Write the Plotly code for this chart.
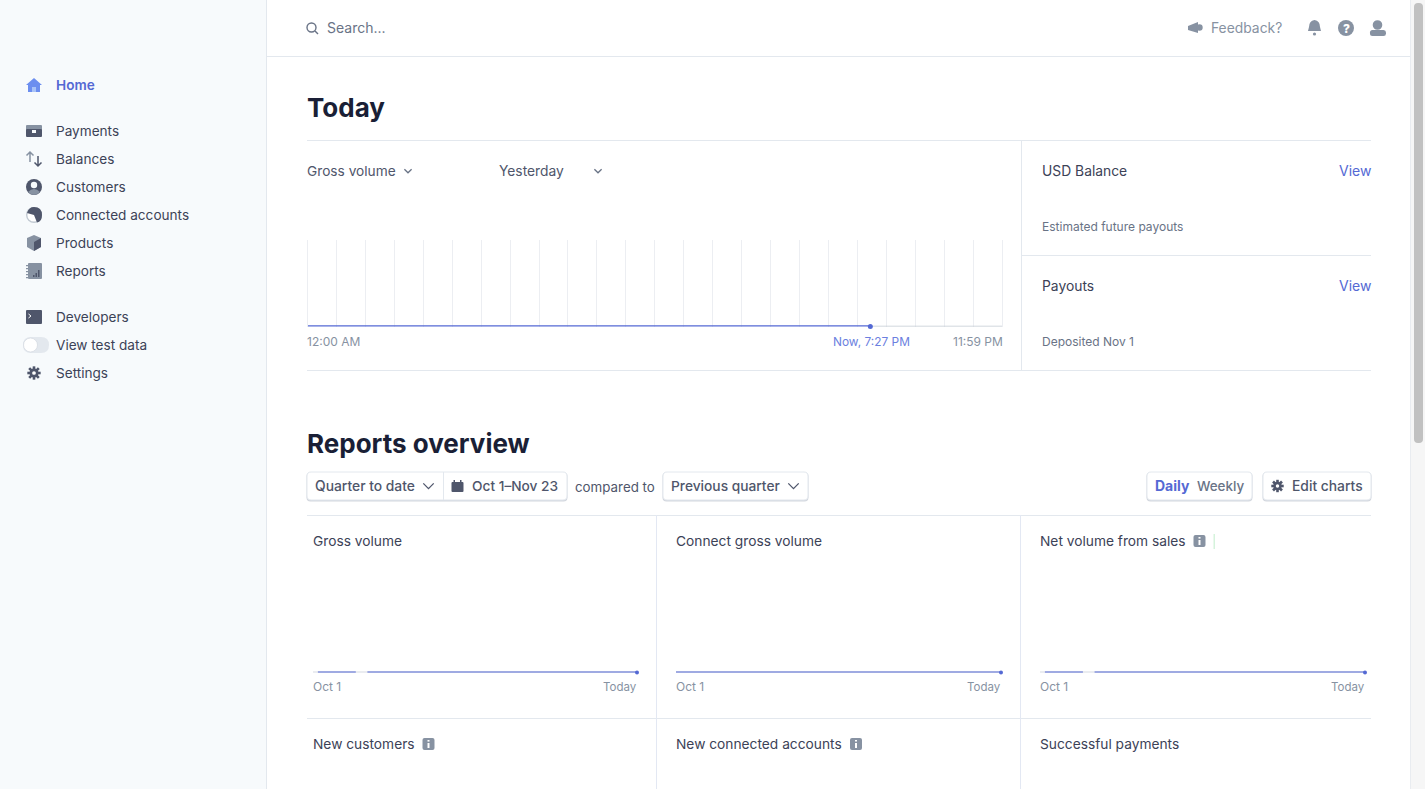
import plotly.graph_objects as go

W, H = 1425, 789
FONT = "Inter"

# ---- data ----
today_hours_elapsed = [0, 19.45]
today_values_elapsed = [0, 0]
today_hours_rest = [19.45, 24]
today_values_rest = [0, 0]
today_now_hour = [19.45]
today_now_value = [0]

period_days = [0.8, 7, 8, 8.9, 53]
period_values = [0, 0, None, 0, 0]
connect_days = [0, 53]
connect_values = [0, 0]
prior_days = [0, 53]
prior_values = [0, 0]
last_day = [53]
last_value = [0]

nav_labels = ["Home", "Payments", "Balances", "Customers", "Connected accounts", "Products",
              "Reports", "Developers", "View test data", "Settings"]
nav_rows = [85, 131, 159, 187, 215, 243, 271, 317, 345, 373]
chart_titles_row1 = ["Gross volume", "Connect gross volume", "Net volume from sales"]
chart_titles_row2 = ["New customers", "New connected accounts", "Successful payments"]

BLUE = "#5469d4"
GREY_LINE = "#c1c9d2"
BORDER = "#e3e8ee"
DARK = "#3c4257"
MID = "#4f566b"
SOFT = "#697386"
FAINT = "#8792a2"
ICON = "#4f566b"
ICON2 = "#8792a2"


def px(x):
    return x / W


def py(y):
    return 1 - y / H


def path(*tok):
    out, i = [], 0
    for t in tok:
        if isinstance(t, str):
            out.append(t)
            i = 0
        else:
            out.append(str(round(px(t) if i % 2 == 0 else py(t), 5)))
            i += 1
    return " ".join(out)


shapes, ann = [], []


def rect(x0, y0, x1, y1, fill, line=None, lw=0, layer="below"):
    shapes.append(dict(type="rect", xref="paper", yref="paper", x0=px(x0), x1=px(x1), y0=py(y0), y1=py(y1),
                       fillcolor=fill, line=dict(color=line or fill, width=lw), layer=layer))


def rrect(x0, y0, x1, y1, r, fill, line=None, lw=0, layer="below"):
    p = path("M", x0 + r, y0, "L", x1 - r, y0, "Q", x1, y0, x1, y0 + r, "L", x1, y1 - r, "Q", x1, y1, x1 - r, y1,
             "L", x0 + r, y1, "Q", x0, y1, x0, y1 - r, "L", x0, y0 + r, "Q", x0, y0, x0 + r, y0, "Z")
    shapes.append(dict(type="path", xref="paper", yref="paper", path=p, fillcolor=fill,
                       line=dict(color=line or fill, width=lw), layer=layer))


def hline(y, x0, x1, color=BORDER, w=1):
    shapes.append(dict(type="line", xref="paper", yref="paper", x0=px(x0), x1=px(x1), y0=py(y), y1=py(y),
                       line=dict(color=color, width=w), layer="below"))


def vline(x, y0, y1, color=BORDER, w=1):
    shapes.append(dict(type="line", xref="paper", yref="paper", x0=px(x), x1=px(x), y0=py(y0), y1=py(y1),
                       line=dict(color=color, width=w), layer="below"))


def circle(cx, cy, r, fill, line=None, lw=0):
    shapes.append(dict(type="circle", xref="paper", yref="paper", x0=px(cx - r), x1=px(cx + r),
                       y0=py(cy + r), y1=py(cy - r), fillcolor=fill,
                       line=dict(color=line or fill, width=lw), layer="above"))


def poly(fill, *tok, line=None, lw=0):
    shapes.append(dict(type="path", xref="paper", yref="paper", path=path(*tok), fillcolor=fill,
                       line=dict(color=line or fill, width=lw), layer="above"))


def stroke(color, *tok, lw=1.3):
    shapes.append(dict(type="path", xref="paper", yref="paper", path=path(*tok),
                       line=dict(color=color, width=lw), layer="above"))


def chevron(x, y, s=4, color=SOFT, lw=1.3):
    stroke(color, "M", x - s, y - s / 2, "L", x, y + s / 2, "L", x + s, y - s / 2, lw=lw)


def text(x, y, s, size=13.7, color=DARK, weight=400, anchor="left"):
    ann.append(dict(xref="paper", yref="paper", x=px(x), y=py(y - 0.5), text=s, showarrow=False, xanchor=anchor,
                    yanchor="middle", borderpad=0, borderwidth=0,
                    font=dict(family=FONT, size=size, color=color, weight=weight)))


def gear(cx, cy, r, color):
    for dx, dy in [(0, -1), (0, 1), (1, 0), (-1, 0), (.72, .72), (-.72, .72), (.72, -.72), (-.72, -.72)]:
        stroke(color, "M", cx, cy, "L", cx + dx * r * 1.15, cy + dy * r * 1.15, lw=2.6)
    circle(cx, cy, r * .78, color)
    circle(cx, cy, r * .32, "#ffffff")


def info(cx, cy):
    rrect(cx - 6, cy - 6, cx + 6, cy + 6, 2, ICON2, layer="above")
    rect(cx - 1, cy - 1, cx + 1, cy + 4, "#ffffff", layer="above")
    rect(cx - 1, cy - 4, cx + 1, cy - 2.4, "#ffffff", layer="above")


# ---- page chrome ----
rect(0, 0, 266, H, "#f7fafc")
vline(266.5, 0, H)
rect(1411, 0, W, H, "#f6f6f6")
vline(1410.5, 0, H, "#e9ecf0")
rrect(1414, 3, 1423, 443, 4, "#c1c1c1")
hline(56.5, 267, 1410)
hline(140.5, 307, 1371)
hline(370.5, 307, 1371)
vline(1021.5, 140, 370)
hline(255.5, 1021, 1371)
hline(515.5, 307, 1371)
hline(718.5, 307, 1371)
vline(656.5, 515, H, "#e3e8f3")
vline(1020.5, 515, H, "#e3e8f3")

# ---- sidebar ----
for label, y in zip(nav_labels, nav_rows):
    home = label == "Home"
    text(55.5, y, label, 13.6, BLUE if home else DARK, 600 if home else 400)

poly("#6c8eef", "M", 34, 78, "L", 42, 85, "L", 40, 85, "L", 40, 92, "L", 28, 92, "L", 28, 85, "L", 26, 85, "Z")
poly("#a9c3f7", "M", 32, 92, "L", 32, 87, "L", 36, 87, "L", 36, 92, "Z")
rrect(26, 125, 42, 130, 1, ICON2, layer="above")
rrect(26, 129, 42, 137, 1, ICON, layer="above")
rect(32, 130, 36, 133, "#f7fafc", layer="above")
stroke(ICON2, "M", 30, 162, "L", 30, 152, "M", 26.5, 155.5, "L", 30, 152, "L", 33.5, 155.5, lw=1.5)
stroke(ICON, "M", 38, 156, "L", 38, 166, "M", 34.5, 162.5, "L", 38, 166, "L", 41.5, 162.5, lw=1.5)
circle(34, 187, 8, ICON)
poly(ICON2, "M", 28, 192, "Q", 34, 186, 40, 192, "Q", 34, 198, 28, 192, "Z")
circle(34, 185, 3.2, "#f7fafc")
circle(34, 215, 8, "#c1c9d2")
circle(34, 215, 6.6, "#ffffff")
poly(ICON, "M", 34, 207, "Q", 42, 207, 42, 215, "Q", 42, 222, 37, 222.5, "L", 34, 215, "L", 27, 213, "Q", 29, 207, 34, 207, "Z")
poly(ICON2, "M", 34, 235, "L", 41, 238, "L", 41, 247, "L", 34, 251, "L", 27, 247, "L", 27, 238, "Z")
poly(ICON, "M", 34, 242, "L", 41, 238, "L", 41, 247, "L", 34, 251, "Z")
rrect(28, 263, 42, 279, 1, ICON2, layer="above")
for by in (265, 268, 271, 274, 277):
    rect(26, by, 28, by + 1.3, ICON2, layer="above")
for bx, by in [(33, 275), (35.5, 273), (38, 270)]:
    rect(bx, by, bx + 1.5, 277, ICON, layer="above")
rrect(26, 310, 42, 324, 1, ICON, layer="above")
stroke("#ffffff", "M", 28.5, 314, "L", 31, 316, "L", 28.5, 318, lw=1)
rrect(23, 337, 49, 353, 8, "#e3e8ee", layer="above")
circle(30.5, 345, 7, "#ffffff", "#d5dae2", 0.8)
gear(34, 373, 5.8, ICON)

# ---- top bar ----
shapes.append(dict(type="circle", xref="paper", yref="paper", x0=px(307), x1=px(316), y0=py(32), y1=py(23),
                   line=dict(color=SOFT, width=1.4), layer="above"))
stroke(SOFT, "M", 315, 31, "L", 318, 34, lw=1.4)
text(326.5, 28, "Search...", 14, SOFT)
poly(ICON2, "M", 1188, 26, "L", 1198, 22, "L", 1198, 33, "L", 1188, 30, "Z")
circle(1199.5, 27.5, 3.2, ICON2)
text(1211, 28.5, "Feedback?", 13.85, FAINT)
poly(ICON2, "M", 1314.5, 20, "Q", 1309, 21, 1309, 27, "L", 1308, 31, "L", 1321, 31, "L", 1320, 27, "Q", 1320, 21, 1314.5, 20, "Z")
circle(1314.5, 34, 1.6, ICON2)
circle(1346, 28, 8, ICON2)
text(1346, 28.5, "?", 12, "#ffffff", 800, "center")
circle(1377.5, 25, 4.8, ICON2)
rrect(1370, 30, 1386, 36, 2.5, ICON2, layer="above")

# ---- today section ----
text(307, 108, "Today", 26, "#1a1f36", 700)
text(307, 171.5, "Gross volume", 13.7, MID)
chevron(408, 171, 3.6)
text(499, 171.5, "Yesterday", 13.8, MID)
chevron(598, 171, 3.6)
text(1042, 171.5, "USD Balance", 13.85, DARK, 400)
text(1370.5, 171.5, "View", 14, BLUE, 400, "right")
text(1042, 227.5, "Estimated future payouts", 12, SOFT)
text(1042, 286, "Payouts", 13.85, DARK, 400)
text(1370.5, 286, "View", 14, BLUE, 400, "right")
text(1042, 342, "Deposited Nov 1", 12, SOFT)
text(307, 341.5, "12:00 AM", 12, FAINT)
text(909.5, 341.5, "Now, 7:27 PM", 11.9, "#6c7fe0", 400, "right")
text(1002.5, 341.5, "11:59 PM", 12, FAINT, 400, "right")

# ---- reports header ----
text(307, 444, "Reports overview", 26, "#1a1f36", 700)
for x0, x1 in [(307, 567), (663, 808), (1147, 1252), (1263, 1371)]:
    rrect(x0 - 0.5, 472.5, x1 + 0.5, 501.5, 4, "#d3d7de", layer="below")
    rrect(x0, 472, x1, 500, 4, "#ffffff", "#e3e8ee", 1, layer="below")
vline(443.5, 472, 500)
text(315, 486, "Quarter to date", 13.85, MID, 500)
chevron(428.5, 486, 5.2, MID)
rrect(451.5, 482, 463.5, 492, 1, ICON, layer="above")
rect(453.5, 480, 455, 483, ICON, layer="above")
rect(460, 480, 461.5, 483, ICON, layer="above")
text(472, 486, "Oct 1–Nov 23", 13.7, MID, 500)
text(575, 487.5, "compared to", 13.35, MID)
text(671, 486, "Previous quarter", 13.75, MID, 500)
chevron(793.5, 486, 5.2, MID)
text(1155, 486, "Daily", 14, BLUE, 700)
text(1197, 486, "Weekly", 13.4, SOFT, 500)
gear(1277.5, 486, 5.4, ICON)
text(1291.5, 486, "Edit charts", 13.85, MID, 500)

# ---- chart cards ----
for x, s in zip((313, 676, 1040), chart_titles_row1):
    text(x, 541, s, 13.75, DARK, 400)
for x, s in zip((313, 676, 1040), chart_titles_row2):
    text(x, 744, s, 13.75, DARK, 400)
info(1199.5, 541)
info(428.5, 744)
info(856, 744)
rect(1213.5, 534, 1215, 549, "#d5f3dc")
for x0, x1 in [(313, 637), (676, 1001), (1040, 1365)]:
    text(x0, 686.5, "Oct 1", 12, FAINT)
    text(x1, 687, "Today", 11.5, FAINT, 400, "right")

# ---- figure and real charts ----
fig = go.Figure()


def dom(a, b, size):
    return [a / size, b / size]


axis_off = dict(showgrid=False, zeroline=False, showticklabels=False, ticks="", showline=False, fixedrange=True)
GRID = "#eceef2"
layout = dict(
    width=W, height=H, margin=dict(l=0, r=0, t=0, b=0, pad=0), paper_bgcolor="#ffffff", plot_bgcolor="rgba(0,0,0,0)",
    showlegend=False, shapes=shapes, annotations=ann, hovermode=False, font=dict(family=FONT),
    xaxis=dict(domain=dom(307.5, 1002, W), range=[0, 24], tick0=0, dtick=1, showgrid=True, gridcolor=GRID,
               gridwidth=1, zeroline=False, showticklabels=False, ticks="", showline=False, fixedrange=True,
               anchor="y"),
    yaxis=dict(domain=[1 - 326.5 / H, 1 - 240 / H], range=[0, 1], showgrid=False, zeroline=False,
               showticklabels=False, ticks="", showline=True, mirror=True, linecolor=GRID, linewidth=1,
               fixedrange=True, anchor="x"),
)

fig.add_trace(go.Scatter(x=today_hours_rest, y=today_values_rest, mode="lines", cliponaxis=False,
                         line=dict(color=GREY_LINE, width=1.6), xaxis="x", yaxis="y"))
fig.add_trace(go.Scatter(x=today_hours_elapsed, y=today_values_elapsed, mode="lines", cliponaxis=False,
                         line=dict(color=BLUE, width=2.3), xaxis="x", yaxis="y"))
fig.add_trace(go.Scatter(x=today_now_hour, y=today_now_value, mode="markers", cliponaxis=False,
                         marker=dict(color=BLUE, size=5), xaxis="x", yaxis="y"))

for i, ((x0, x1), days, vals) in enumerate([
    ((313, 637), period_days, period_values),
    ((676, 1001), connect_days, connect_values),
    ((1040, 1365), period_days, period_values),
]):
    n = i + 2
    xn, yn = f"x{n}", f"y{n}"
    layout[f"xaxis{n}"] = dict(domain=dom(x0, x1, W), range=[0, 53], anchor=yn, **axis_off)
    layout[f"yaxis{n}"] = dict(domain=[1 - 672.5 / H, 1 - 575 / H], range=[0, 1], anchor=xn, **axis_off)
    fig.add_trace(go.Scatter(x=prior_days, y=prior_values, mode="lines", cliponaxis=False,
                             line=dict(color="#d5dae2", width=1.8), xaxis=xn, yaxis=yn))
    fig.add_trace(go.Scatter(x=days, y=vals, mode="lines", cliponaxis=False, connectgaps=False,
                             line=dict(color=BLUE, width=2.1), xaxis=xn, yaxis=yn))
    fig.add_trace(go.Scatter(x=last_day, y=last_value, mode="markers", cliponaxis=False,
                             marker=dict(color=BLUE, size=4), xaxis=xn, yaxis=yn))

fig.update_layout(**layout)
fig.write_html("out.html", config=dict(displayModeBar=False),
               post_script="document.body.style.margin='0';document.body.style.overflow='hidden';")
